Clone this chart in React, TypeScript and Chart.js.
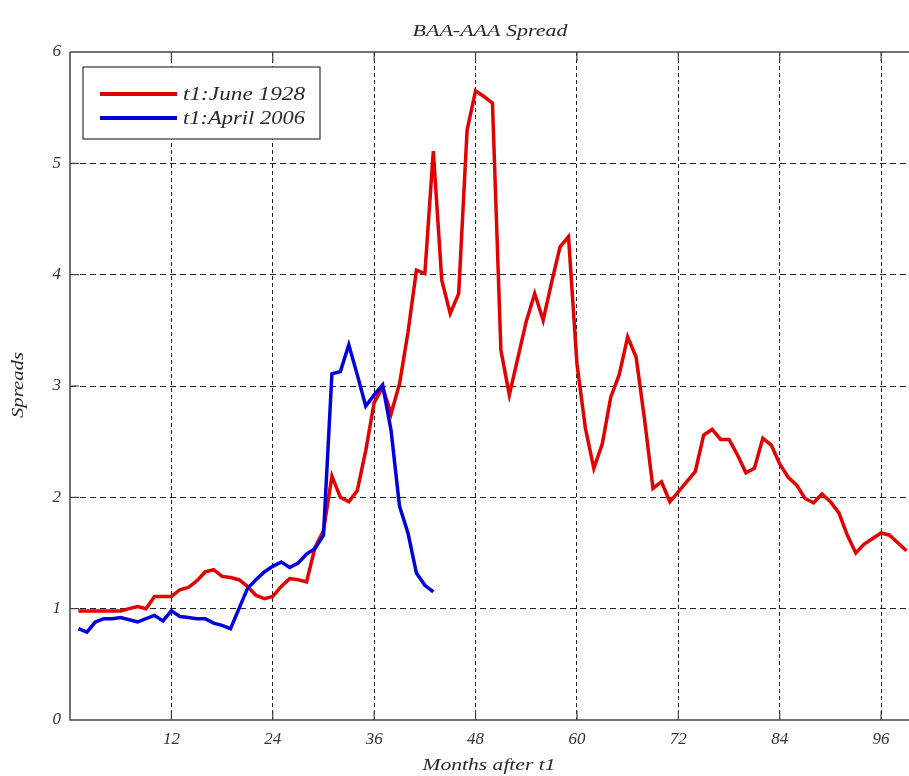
import { useEffect, useRef } from 'react';
import { Chart, registerables } from 'chart.js';

Chart.register(...registerables);

// ---- data ----
const START_MONTH = 1;
const SERIES_LABELS = ['t1:June 1928', 't1:April 2006'];
const RED_JUNE_1928 = [
  0.98, 0.98, 0.98, 0.98, 0.98, 0.98, 1.0, 1.02, 1.0, 1.11,
  1.11, 1.11, 1.17, 1.19, 1.25, 1.33, 1.35, 1.29, 1.28, 1.26,
  1.2, 1.12, 1.09, 1.11, 1.2, 1.27, 1.26, 1.24, 1.55, 1.7,
  2.19, 2.0, 1.96, 2.06, 2.42, 2.85, 2.99, 2.75, 3.02, 3.48,
  4.04, 4.01, 5.11, 3.95, 3.65, 3.83, 5.3, 5.65, 5.6, 5.54,
  3.32, 2.92, 3.25, 3.58, 3.83, 3.59, 3.93, 4.25, 4.34, 3.2,
  2.62, 2.26, 2.48, 2.9, 3.1, 3.44, 3.26, 2.7, 2.08, 2.14,
  1.96, 2.05, 2.14, 2.23, 2.56, 2.61, 2.52, 2.52, 2.38, 2.22,
  2.26, 2.53, 2.47, 2.3, 2.18, 2.11, 1.99, 1.95, 2.03, 1.96,
  1.86, 1.66, 1.5, 1.58, 1.63, 1.68, 1.66, 1.59, 1.52,
];
const BLUE_APRIL_2006 = [
  0.82, 0.79, 0.88, 0.91, 0.91, 0.92, 0.9, 0.88, 0.91, 0.94,
  0.89, 0.98, 0.93, 0.92, 0.91, 0.91, 0.87, 0.85, 0.82, 1.0,
  1.18, 1.26, 1.33, 1.38, 1.42, 1.37, 1.41, 1.49, 1.54, 1.66,
  3.11, 3.13, 3.37, 3.1, 2.82, 2.92, 3.01, 2.6, 1.92, 1.68,
  1.32, 1.21, 1.15,
];
const X_TICKS = [12, 24, 36, 48, 60, 72, 84, 96];
const Y_TICKS = [0, 1, 2, 3, 4, 5, 6];
const X_MIN = 0;
const X_MAX = 99.3;
const Y_MIN = 0;
const Y_MAX = 6;
const TITLE = 'BAA-AAA Spread';
const X_LABEL = 'Months after t1';
const Y_LABEL = 'Spreads';

const RED = '#e30000';
const BLUE = '#0000dd';
const FONT = '"Liberation Serif", "Times New Roman", serif';
const AXIS = '#444';

const toPoints = (vals: number[]) => vals.map((v, i) => ({ x: START_MONTH + i, y: v }));

function fitText(
  ctx: CanvasRenderingContext2D,
  text: string,
  x: number,
  y: number,
  width: number,
  size: number,
  align: CanvasTextAlign,
  rotate = 0,
) {
  ctx.save();
  ctx.font = `italic ${size}px ${FONT}`;
  const w = ctx.measureText(text).width;
  ctx.translate(x, y);
  if (rotate) ctx.rotate(rotate);
  ctx.scale(width / w, 1);
  ctx.textAlign = align;
  ctx.textBaseline = 'alphabetic';
  ctx.fillStyle = '#2a2a2a';
  ctx.fillText(text, 0, 0);
  ctx.restore();
}

const decorPlugin = {
  id: 'decor',
  afterDraw(chart: any) {
    const { ctx, chartArea } = chart;
    const { left, right, top, bottom } = chartArea;
    const xs = chart.scales.x;
    const ys = chart.scales.y;
    ctx.save();
    // frame
    ctx.strokeStyle = AXIS;
    ctx.lineWidth = 1.5;
    ctx.setLineDash([]);
    ctx.beginPath();
    ctx.moveTo(left, top);
    ctx.lineTo(right + 2, top);
    ctx.moveTo(left, top);
    ctx.lineTo(left, bottom);
    ctx.lineTo(right + 2, bottom);
    ctx.stroke();
    // inward ticks
    ctx.lineWidth = 1.2;
    ctx.beginPath();
    X_TICKS.forEach((t) => {
      const px = xs.getPixelForValue(t);
      ctx.moveTo(px, bottom);
      ctx.lineTo(px, bottom - 9);
      ctx.moveTo(px, top);
      ctx.lineTo(px, top + 9);
    });
    Y_TICKS.slice(1, -1).forEach((t) => {
      const py = ys.getPixelForValue(t);
      ctx.moveTo(left, py);
      ctx.lineTo(left + 9, py);
    });
    ctx.stroke();

    // legend
    const bx = 83, by = 67, bw = 237, bh = 72;
    ctx.fillStyle = '#fff';
    ctx.fillRect(bx, by, bw, bh);
    ctx.strokeStyle = '#333';
    ctx.lineWidth = 1.2;
    ctx.strokeRect(bx, by, bw, bh);
    const colors = [RED, BLUE];
    const rows = [94, 118];
    SERIES_LABELS.forEach((lab, i) => {
      ctx.strokeStyle = colors[i];
      ctx.lineWidth = 4;
      ctx.beginPath();
      ctx.moveTo(100, rows[i]);
      ctx.lineTo(177, rows[i]);
      ctx.stroke();
      fitText(ctx, lab, 183, rows[i] + 6, 122, 18, 'left');
    });

    // titles
    fitText(ctx, TITLE, 490, 36, 155, 17, 'center');
    fitText(ctx, X_LABEL, 489, 770, 133, 17, 'center');
    fitText(ctx, Y_LABEL, 23, 385, 66, 17, 'center', -Math.PI / 2);
    ctx.restore();
  },
};

export default function App() {
  const ref = useRef<HTMLCanvasElement | null>(null);
  useEffect(() => {
    document.body.style.margin = '0';
    const canvas = ref.current;
    if (!canvas) return;
    const tickFont = { family: FONT, size: 17, style: 'italic' as const };
    const chart = new Chart(canvas, {
      type: 'line',
      data: {
        datasets: [
          {
            label: SERIES_LABELS[0],
            data: toPoints(RED_JUNE_1928),
            borderColor: RED,
            borderWidth: 3.5,
            pointRadius: 0,
            tension: 0,
            fill: false,
            order: 2,
          },
          {
            label: SERIES_LABELS[1],
            data: toPoints(BLUE_APRIL_2006),
            borderColor: BLUE,
            borderWidth: 3.5,
            pointRadius: 0,
            tension: 0,
            fill: false,
            order: 1,
          },
        ],
      },
      options: {
        responsive: false,
        animation: false,
        devicePixelRatio: 1,
        layout: { padding: { top: 52, right: 0, left: 0, bottom: 0 } },
        plugins: {
          legend: { display: false },
          title: { display: false },
          tooltip: { enabled: false },
        },
        scales: {
          x: {
            type: 'linear',
            min: X_MIN,
            max: X_MAX,
            afterBuildTicks: (s: any) => {
              s.ticks = X_TICKS.map((v) => ({ value: v }));
            },
            afterFit: (s: any) => {
              s.height = 56;
            },
            grid: {
              color: '#222',
              lineWidth: 1,
              drawTicks: false,
            },
            border: { display: false, dash: [4, 3] },
            ticks: {
              font: tickFont,
              color: '#333',
              padding: 9,
              maxRotation: 0,
              autoSkip: false,
              callback: (v: any) => String(v),
            },
          },
          y: {
            type: 'linear',
            min: Y_MIN,
            max: Y_MAX,
            afterBuildTicks: (s: any) => {
              s.ticks = Y_TICKS.map((v) => ({ value: v }));
            },
            afterFit: (s: any) => {
              s.width = 70;
            },
            grid: {
              color: (c: any) =>
                c.tick && (c.tick.value === Y_MIN || c.tick.value === Y_MAX) ? 'rgba(0,0,0,0)' : '#222',
              lineWidth: 1,
              drawTicks: false,
            },
            border: { display: false, dash: [6, 4] },
            ticks: {
              font: tickFont,
              color: '#333',
              padding: 9,
              callback: (v: any) => String(v),
            },
          },
        },
      },
      plugins: [decorPlugin],
    } as any);
    return () => chart.destroy();
  }, []);
  return (
    <div style={{ width: 909, height: 776, background: '#fff' }}>
      <canvas ref={ref} width={909} height={776} style={{ display: 'block' }} />
    </div>
  );
}
